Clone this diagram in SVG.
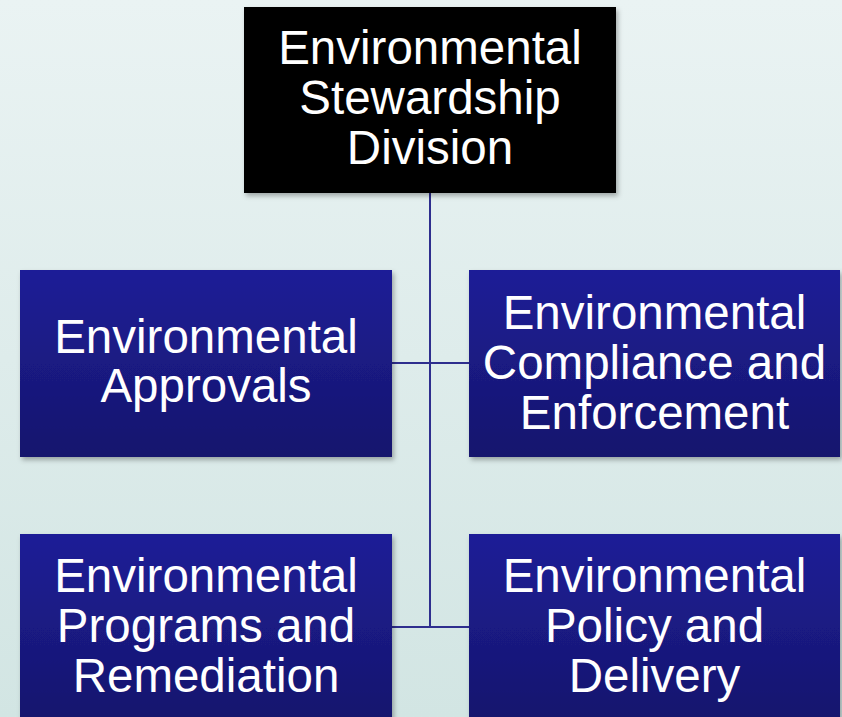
<svg xmlns="http://www.w3.org/2000/svg" width="842" height="717" viewBox="0 0 842 717">
<defs>
<linearGradient id="bg" x1="0" y1="0" x2="0" y2="1">
<stop offset="0" stop-color="#EAF3F3"/>
<stop offset="1" stop-color="#D2E5E3"/>
</linearGradient>
<linearGradient id="blue" x1="0" y1="0" x2="0" y2="1">
<stop offset="0" stop-color="#1F1F97"/>
<stop offset="1" stop-color="#15156D"/>
</linearGradient>
<filter id="sh" x="-10%" y="-10%" width="120%" height="125%">
<feDropShadow dx="2" dy="3" stdDeviation="2.5" flood-color="#000" flood-opacity="0.3"/>
</filter>
<style>
.box{fill:url(#blue);filter:url(#sh)}
.top{fill:#000;filter:url(#sh)}
text{font-family:"Liberation Sans",Arial,sans-serif;font-size:47.5px;fill:#fff;text-anchor:middle}
.conn{stroke:#2E2E8E;stroke-width:2;fill:none}
</style>
</defs>
<rect width="842" height="717" fill="url(#bg)"/>
<g id="connectors">
<path class="conn" d="M430 193V627M392 363H469M392 627H469"/>
</g>
<g id="n-top">
<rect class="top" x="244" y="7" width="372" height="186"/>
<text x="430" y="64">Environmental</text>
<text x="430" y="114">Stewardship</text>
<text x="430" y="164">Division</text>
</g>
<g id="n-approvals">
<rect class="box" x="20" y="270" width="372" height="187"/>
<text x="206" y="353">Environmental</text>
<text x="206" y="402">Approvals</text>
</g>
<g id="n-compliance">
<rect class="box" x="469" y="270" width="371" height="187"/>
<text x="654.5" y="328.5">Environmental</text>
<text x="654.5" y="379">Compliance and</text>
<text x="654.5" y="428.5">Enforcement</text>
</g>
<g id="n-programs">
<rect class="box" x="20" y="534" width="372" height="187"/>
<text x="206" y="592">Environmental</text>
<text x="206" y="642">Programs and</text>
<text x="206" y="691.5">Remediation</text>
</g>
<g id="n-policy">
<rect class="box" x="469" y="534" width="371" height="187"/>
<text x="654.5" y="592">Environmental</text>
<text x="654.5" y="642">Policy and</text>
<text x="654.5" y="691.5">Delivery</text>
</g>
</svg>
